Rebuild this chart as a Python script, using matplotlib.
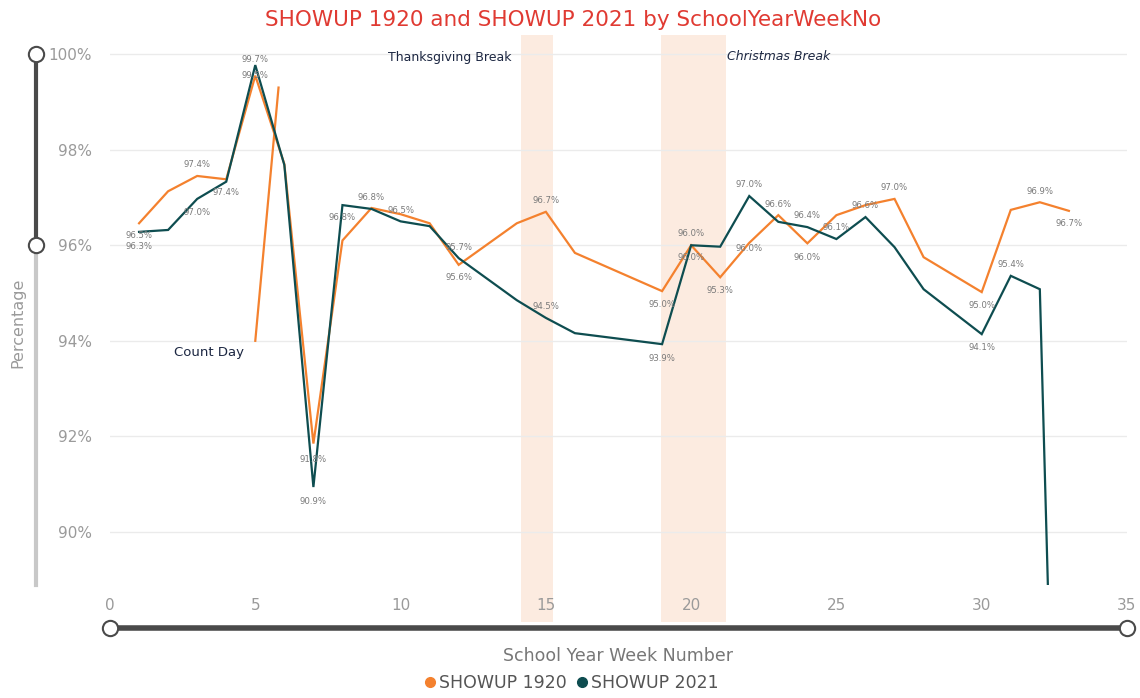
import numpy as np
import matplotlib.pyplot as plt
from matplotlib.lines import Line2D
import matplotlib.transforms as mtransforms

plt.rcParams['font.family'] = ['DejaVu Sans']

# ---- data ----
WEEKS_1920 = [1, 2, 3, 4, 5, 6, 7, 8, 9, 10, 11, 12, 14, 15, 16, 19, 20, 21,
              22, 23, 24, 25, 26, 27, 28, 30, 31, 32, 33]
PCT_1920 = [96.46, 97.13, 97.45, 97.38, 99.55, 97.70, 91.85, 96.10, 96.78,
            96.65, 96.46, 95.59, 96.46, 96.70, 95.84, 95.04, 96.00, 95.33,
            96.05, 96.63, 96.04, 96.63, 96.84, 96.97, 95.75, 95.02, 96.74,
            96.90, 96.72]

WEEKS_2021 = [1, 2, 3, 4, 5, 6, 7, 8, 9, 10, 11, 12, 14, 15, 16, 19, 20, 21,
              22, 23, 24, 25, 26, 27, 28, 30, 31, 32, 33]
PCT_2021 = [96.28, 96.32, 96.97, 97.33, 99.77, 97.68, 90.94, 96.84, 96.76,
            96.50, 96.40, 95.73, 94.85, 94.48, 94.16, 93.93, 96.00, 95.97,
            97.03, 96.49, 96.38, 96.13, 96.59, 95.96, 95.08, 94.14, 95.36,
            95.08, 72.70]

# data labels: (week, text, vertical offset in px)
LABELS_1920 = [(1, '96.5%', -12), (3, '97.4%', 11), (5, '99.5%', 0),
               (7, '91.8%', -16), (12, '95.6%', -13), (15, '96.7%', 11),
               (19, '95.0%', -13), (20, '96.0%', -12), (21, '95.3%', -13),
               (22, '96.0%', -6), (23, '96.6%', 11), (24, '96.0%', -14),
               (27, '97.0%', 11), (30, '95.0%', -13), (32, '96.9%', 11),
               (33, '96.7%', -13)]
LABELS_2021 = [(1, '96.3%', -15), (3, '97.0%', -14), (4, '97.4%', -11),
               (5, '99.7%', 6), (7, '90.9%', -14), (8, '96.8%', -12),
               (9, '96.8%', 11), (10, '96.5%', 11), (12, '95.7%', 11),
               (15, '94.5%', 11), (19, '93.9%', -14), (20, '96.0%', 12),
               (22, '97.0%', 12), (24, '96.4%', 12), (25, '96.1%', 12),
               (26, '96.6%', 12), (30, '94.1%', -13), (31, '95.4%', 11)]

BREAKS = [(14.15, 15.25), (18.95, 21.2)]
COUNT_DAY_WEEKS = [5.0, 5.8]
COUNT_DAY_PCT = [94.0, 99.3]

ORANGE = '#F4812E'
TEAL = '#0E4D50'

fig = plt.figure(figsize=(11.4, 6.98), dpi=100)
ax = fig.add_axes([110 / 1140, 1 - 585 / 698, 1017 / 1140, 550 / 698])

ax.set_xlim(0, 35)
ax.set_ylim(88.89, 100.4)

for x0, x1 in BREAKS:
    ax.axvspan(x0, x1, ymin=-0.067, ymax=1, color='#FCEBE0', lw=0,
               clip_on=False, zorder=0)

ax.plot(WEEKS_1920, PCT_1920, color=ORANGE, lw=1.6, zorder=3,
        solid_joinstyle='miter')
ax.plot(WEEKS_2021, PCT_2021, color=TEAL, lw=1.6, zorder=4,
        solid_joinstyle='miter')
ax.plot(COUNT_DAY_WEEKS, COUNT_DAY_PCT, color=ORANGE, lw=1.6, zorder=3)

lookup_1920 = dict(zip(WEEKS_1920, PCT_1920))
lookup_2021 = dict(zip(WEEKS_2021, PCT_2021))
for labels, lookup in ((LABELS_1920, lookup_1920), (LABELS_2021, lookup_2021)):
    for wk, txt, dy in labels:
        ax.annotate(txt, (wk, lookup[wk]), xytext=(0, dy),
                    textcoords='offset pixels', ha='center', va='center',
                    fontsize=6.8, color='#7a7a7a', fontstretch='condensed',
                    zorder=5)

ax.text((450 - 110) / 1017, 1 - (57 - 35) / 550, 'Thanksgiving Break',
        transform=ax.transAxes, ha='center', va='center', fontsize=9,
        color='#1c2742')
ax.text((779 - 110) / 1017, 1 - (57 - 35) / 550, 'Christmas Break',
        transform=ax.transAxes, ha='center', va='center', fontsize=9,
        color='#1c2742', style='italic')
ax.text(3.42, 93.75, 'Count Day', ha='center', va='center', fontsize=9.5,
        color='#1c2742')

# axes styling
for s in ax.spines.values():
    s.set_visible(False)
ax.set_yticks([90, 92, 94, 96, 98, 100])
ax.set_yticklabels(['90%', '92%', '94%', '96%', '98%', '100%'])
ax.set_xticks([0, 5, 10, 15, 20, 25, 30, 35])
ax.tick_params(axis='both', length=0, colors='#9a9a9a', labelsize=11)
ax.tick_params(axis='y', pad=13)
ax.tick_params(axis='x', pad=9)
ax.yaxis.grid(True, color='#ebebeb', lw=1)
ax.set_axisbelow(True)

# slider-like axis bars
bx = -0.0728
trans_y = mtransforms.blended_transform_factory(ax.transAxes, ax.transData)
ax.add_line(Line2D([bx, bx], [88.89, 96], transform=trans_y, color='#c8c8c8',
                   lw=3, clip_on=False))
ax.add_line(Line2D([bx, bx], [96, 100], transform=trans_y, color='#4a4a4a',
                   lw=3, clip_on=False))
ax.plot([bx, bx], [96, 100], transform=trans_y, ls='none', marker='o', ms=11,
        mfc='white', mec='#4a4a4a', mew=1.5, clip_on=False, zorder=6)

by = -0.078
ax.add_line(Line2D([0, 1], [by, by], transform=ax.transAxes, color='#4a4a4a',
                   lw=4, clip_on=False))
ax.plot([0, 1], [by, by], transform=ax.transAxes, ls='none', marker='o',
        ms=11, mfc='white', mec='#4a4a4a', mew=1.5, clip_on=False, zorder=6)

fig.text(0.503, 1 - 20 / 698, 'SHOWUP 1920 and SHOWUP 2021 by SchoolYearWeekNo',
         ha='center', va='center', fontsize=15.5, color='#E03A32')
fig.text(18 / 1140, 1 - 323 / 698, 'Percentage', rotation=90, ha='center',
         va='center', fontsize=11.5, color='#9a9a9a')
fig.text(618 / 1140, 1 - 656 / 698, 'School Year Week Number', ha='center',
         va='center', fontsize=12.5, color='#777777')

handles = [Line2D([], [], ls='none', marker='o', ms=7, color=ORANGE),
           Line2D([], [], ls='none', marker='o', ms=7, color=TEAL)]
leg = fig.legend(handles, ['SHOWUP 1920', 'SHOWUP 2021'], loc='center',
                 bbox_to_anchor=(570 / 1140, 1 - 683 / 698), ncol=2,
                 frameon=False, handletextpad=0.0, columnspacing=0.4,
                 handlelength=1.0, fontsize=12.5)
for t in leg.get_texts():
    t.set_color('#555555')

fig.savefig('out.png', dpi=100)
